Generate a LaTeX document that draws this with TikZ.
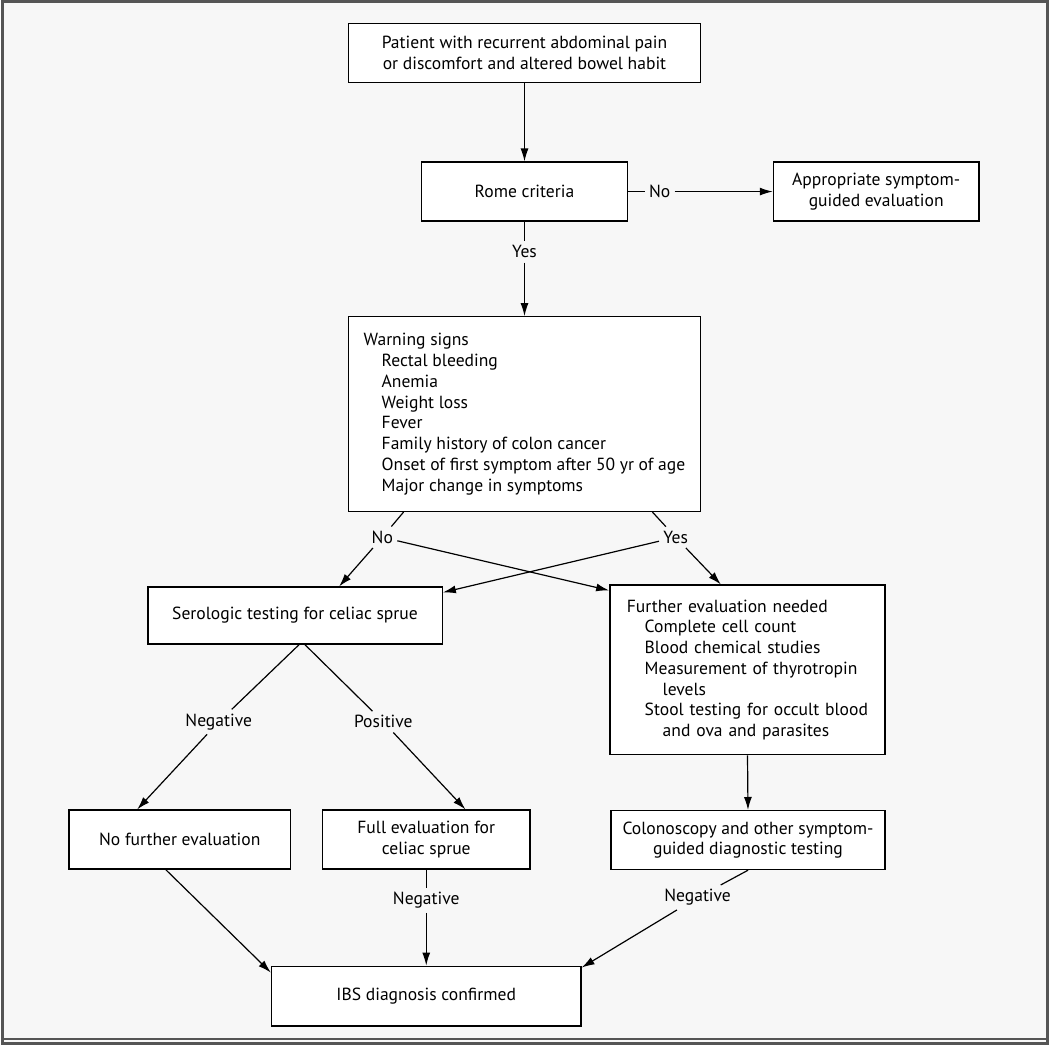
\documentclass[tikz,border=0pt]{standalone}
\usepackage{fontspec}
\setmainfont{PT Sans}
\usepackage{tikz}
\usetikzlibrary{arrows.meta}
\usetikzlibrary{shapes}
\definecolor{bg_gray}{HTML}{F7F7F7}
\definecolor{frame_gray}{HTML}{555555}
\newcommand{\ind}{\hspace*{9pt}}

\begin{document}
\begin{tikzpicture}[x=0.5pt, y=-0.5pt,
        node_style/.style={draw=black, fill=white, line width=0.7pt, align=center, inner sep=0pt,
            minimum height=29.5pt, font=\fontsize{8.8}{10.4}\selectfont},
        list_style/.style={node_style, align=left, inner xsep=8.5pt},
        label_style/.style={inner sep=2pt, font=\fontsize{8.8}{10.4}\selectfont},
        edge_style/.style={draw=black, line width=0.6pt},
        arrow_style/.style={edge_style, -{Latex[length=6.5pt,width=4pt]}}]

        % page and frame
        \fill [bg_gray] (0,0) rectangle (1050,1046);
        \draw [frame_gray, line width=1.5pt] (1,1046) -- (1,1) -- (1049,1) -- (1049,1046);
        \draw [frame_gray, line width=0.8pt] (0,1041) -- (1050,1041);
        \draw [frame_gray, line width=1.2pt] (0,1045.5) -- (1050,1045.5);

        \node [node_style, minimum width=176.5pt](n1) at (524.5,52.5) {Patient with recurrent abdominal pain\\or discomfort and altered bowel habit};

        \node [node_style, minimum width=103.5pt](n2) at (524.5,191.5) {Rome criteria};

        \node [node_style, minimum width=103pt](n3) at (877,191.5) {Appropriate symptom-\\guided evaluation};

        \node [node_style, align=left, minimum width=176.5pt, minimum height=97.5pt](n4) at (524.5,414.5) {Warning signs\\
            \ind Rectal bleeding\\
            \ind Anemia\\
            \ind Weight loss\\
            \ind Fever\\
            \ind Family history of colon cancer\\
            \ind Onset of first symptom after 50 yr of age\\
            \ind Major change in symptoms};

        \node [node_style, minimum width=147.5pt, minimum height=28.5pt](n5) at (294.5,616.5) {Serologic testing for celiac sprue};

        \node [list_style, text width=121pt, minimum height=85pt](n6) at (748,671) {Further evaluation needed\\
            \ind Complete cell count\\
            \ind Blood chemical studies\\
            \ind Measurement of thyrotropin\\
            \ind\ind levels\\
            \ind\mbox{Stool testing for occult blood}\\
            \ind\ind and ova and parasites};

        \node [node_style, minimum width=111pt](n7) at (179,841) {No further evaluation};

        \node [node_style, minimum width=104pt](n8) at (426,841) {Full evaluation for\\celiac sprue};

        \node [node_style, minimum width=137.5pt](n9) at (748.5,841.5) {Colonoscopy and other symptom-\\guided diagnostic testing};

        \node [node_style, minimum width=155pt, minimum height=30pt](n10) at (426,998) {IBS diagnosis confirmed};

        % branch labels
        \node [label_style](l1) at (660,191.5) {No};
        \node [label_style](l2) at (524.5,252) {Yes};
        \node [label_style](l3) at (382,538) {No};
        \node [label_style](l4) at (676,538) {Yes};
        \node [label_style](l5) at (218,723) {Negative};
        \node [label_style](l6) at (383,723) {Positive};
        \node [label_style](l7) at (426,902) {Negative};
        \node [label_style](l8) at (698,899) {Negative};

        \draw [arrow_style] (n1.south) -- (n2.north);

        \draw [edge_style] (n2.east) -- (l1);
        \draw [arrow_style] (l1) -- (n3.west);

        \draw [edge_style] (n2.south) -- (l2);
        \draw [arrow_style] (l2) -- (n4.north);

        \draw [edge_style] ([xshift=28pt]n4.south west) -- (l3);
        \draw [arrow_style] (l3) -- ([xshift=-52pt]n5.north east);
        \draw [arrow_style] (l3) -- ([yshift=-3pt]n6.north west);

        \draw [edge_style] ([xshift=-24.5pt]n4.south east) -- (l4);
        \draw [arrow_style] (l4) -- ([xshift=56pt]n6.north west);
        \draw [arrow_style] (l4) -- ([yshift=-3pt]n5.north east);

        \draw [edge_style] ([xshift=2pt]n5.south) -- (l5);
        \draw [arrow_style] (l5) -- ([xshift=34.5pt]n7.north west);

        \draw [edge_style] ([xshift=5pt]n5.south) -- (l6);
        \draw [arrow_style] (l6) -- ([xshift=72pt]n8.north west);

        \draw [arrow_style] (n6.south) -- (n9.north);

        \draw [edge_style] (n8.south) -- (l7);
        \draw [arrow_style] (l7) -- (n10.north);

        \draw [edge_style] (n9.south) -- (l8);
        \draw [arrow_style] (l8) -- ([yshift=-1pt]n10.north east);

        \draw [arrow_style] ([xshift=-7pt]n7.south) -- ([yshift=-3.5pt]n10.north west);

        \end{tikzpicture}
\end{document}
